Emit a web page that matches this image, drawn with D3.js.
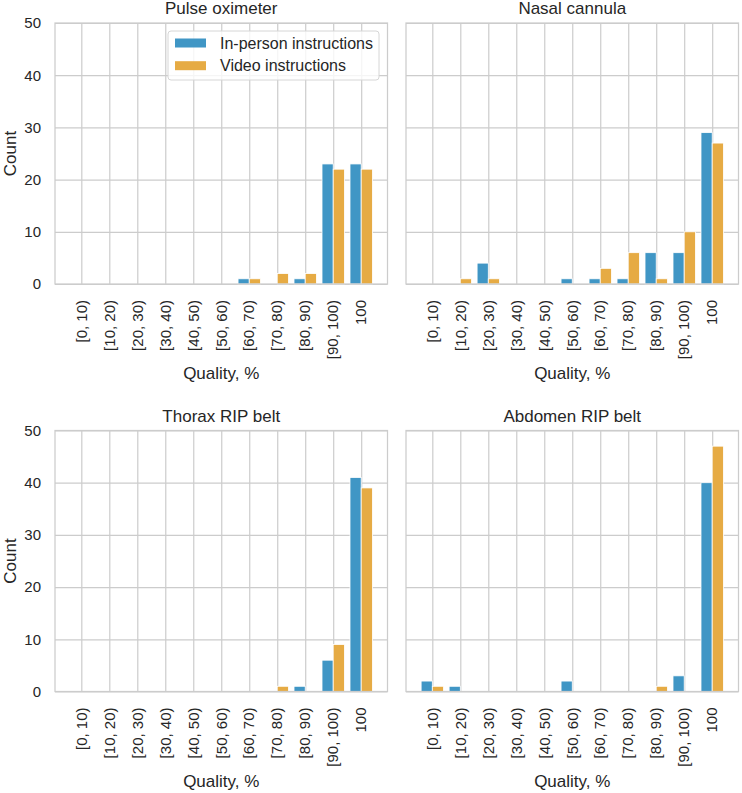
<!DOCTYPE html>
<html>
<head>
<meta charset="utf-8">
<script src="https://cdn.jsdelivr.net/npm/d3@7"></script>
<style>
  body { margin: 0; background: #fff; }
  svg { display: block; font-family: "Liberation Sans", Arial, sans-serif; }
</style>
</head>
<body>
<svg id="chart" width="742" height="793"></svg>
<script>
const categories = ["[0, 10)", "[10, 20)", "[20, 30)", "[30, 40)", "[40, 50)", "[50, 60)", "[60, 70)", "[70, 80)", "[80, 90)", "[90, 100)", "100"];
const yTicks = [0, 10, 20, 30, 40, 50];
const seriesNames = ["In-person instructions", "Video instructions"];
const panelTitles = ["Pulse oximeter", "Nasal cannula", "Thorax RIP belt", "Abdomen RIP belt"];

const pulseInPerson   = [0, 0, 0, 0, 0, 0, 1, 0, 1, 23, 23];
const pulseVideo      = [0, 0, 0, 0, 0, 0, 1, 2, 2, 22, 22];
const nasalInPerson   = [0, 0, 4, 0, 0, 1, 1, 1, 6, 6, 29];
const nasalVideo      = [0, 1, 1, 0, 0, 0, 3, 6, 1, 10, 27];
const thoraxInPerson  = [0, 0, 0, 0, 0, 0, 0, 0, 1, 6, 41];
const thoraxVideo     = [0, 0, 0, 0, 0, 0, 0, 1, 0, 9, 39];
const abdomenInPerson = [2, 1, 0, 0, 0, 2, 0, 0, 0, 3, 40];
const abdomenVideo    = [1, 0, 0, 0, 0, 0, 0, 0, 1, 0, 47];

const panelData = [
  [pulseInPerson, pulseVideo],
  [nasalInPerson, nasalVideo],
  [thoraxInPerson, thoraxVideo],
  [abdomenInPerson, abdomenVideo]
];

const colors = ["#4096c5", "#e6ab44"];
const gridColor = "#cccccc";
const textColor = "#262626";

const svg = d3.select("#chart");

const panelX = [55, 406];
const panelY = [23, 430.5];
const panelW = 332.5;
const panelH = 261;

panelTitles.forEach((title, p) => {
  const col = p % 2, row = Math.floor(p / 2);
  const x0 = panelX[col], y0 = panelY[row];
  const g = svg.append("g");

  const x = d3.scaleLinear().domain([-0.94, 10.94]).range([x0, x0 + panelW]);
  const y = d3.scaleLinear().domain([0, 50]).range([y0 + panelH, y0]);

  // grid
  const xAxis = d3.axisBottom(x).tickValues(d3.range(categories.length))
    .tickSize(-panelH).tickPadding(0).tickFormat("");
  const gx = g.append("g").attr("transform", `translate(0,${y0 + panelH})`).call(xAxis);
  gx.select(".domain").remove();
  gx.selectAll("line").attr("stroke", gridColor).attr("stroke-width", 1.2);

  const yAxis = d3.axisLeft(y).tickValues(yTicks).tickSize(-panelW).tickPadding(14)
    .tickFormat(col === 0 ? d3.format("d") : () => "");
  const gy = g.append("g").attr("transform", `translate(${x0},0)`).call(yAxis);
  gy.select(".domain").remove();
  gy.selectAll("line").attr("stroke", gridColor).attr("stroke-width", 1.2);
  gy.selectAll("text").attr("fill", textColor).attr("font-size", 15)
    .attr("font-family", "Liberation Sans, Arial, sans-serif");

  // bars
  panelData[p].forEach((vals, s) => {
    g.append("g").selectAll("rect")
      .data(vals.map((v, i) => ({ v, i })).filter(d => d.v > 0))
      .join("rect")
      .attr("x", d => x(d.i - 0.4 + s * 0.4))
      .attr("width", d => x(0.4) - x(0))
      .attr("y", d => y(d.v))
      .attr("height", d => y(0) - y(d.v))
      .attr("fill", colors[s])
      .attr("stroke", "#ffffff")
      .attr("stroke-width", 0.8);
  });

  // spines
  g.append("rect").attr("x", x0).attr("y", y0).attr("width", panelW).attr("height", panelH)
    .attr("fill", "none").attr("stroke", gridColor).attr("stroke-width", 1.25);

  // x tick labels (rotated)
  g.append("g").selectAll("text").data(categories).join("text")
    .attr("transform", (d, i) => `translate(${x(i)},${y0 + panelH + 16}) rotate(-90)`)
    .attr("text-anchor", "end")
    .attr("dy", "0.35em")
    .attr("font-size", 15)
    .attr("fill", textColor)
    .text(d => d);

  // title
  g.append("text").attr("x", x0 + panelW / 2).attr("y", y0 - 9)
    .attr("text-anchor", "middle").attr("font-size", 17).attr("fill", textColor)
    .text(title);

  // x label
  g.append("text").attr("x", x0 + panelW / 2).attr("y", y0 + panelH + 95)
    .attr("text-anchor", "middle").attr("font-size", 17).attr("fill", textColor)
    .text("Quality, %");

  // y label
  if (col === 0) {
    g.append("text")
      .attr("transform", `translate(16,${y0 + panelH / 2}) rotate(-90)`)
      .attr("text-anchor", "middle").attr("font-size", 17).attr("fill", textColor)
      .text("Count");
  }

  // legend in first panel
  if (p === 0) {
    const lg = g.append("g");
    lg.append("rect").attr("x", 168).attr("y", 31).attr("width", 211).attr("height", 49)
      .attr("rx", 3).attr("fill", "#ffffff").attr("fill-opacity", 0.8)
      .attr("stroke", "#d6d6d6").attr("stroke-width", 1);
    seriesNames.forEach((name, s) => {
      const cy = 43 + s * 22.7;
      lg.append("rect").attr("x", 175).attr("y", cy - 4.5).attr("width", 31).attr("height", 9)
        .attr("fill", colors[s]);
      lg.append("text").attr("x", 220).attr("y", cy).attr("dy", "0.35em")
        .attr("font-size", 16).attr("fill", textColor).text(name);
    });
  }
});
</script>
</body>
</html>
